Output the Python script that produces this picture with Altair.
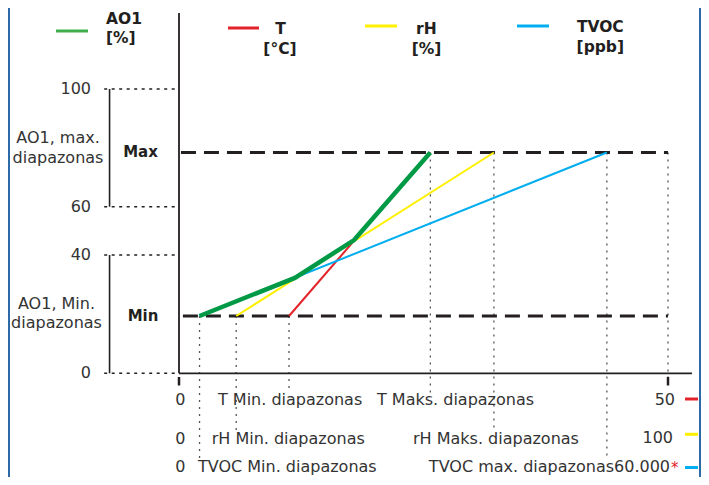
import altair as alt
import pandas as pd

# ---------------- data ----------------
ao1_ticks = [0, 40, 60, 100]            # AO1 output scale labels (%)
ao1_levels = [20, 80]                   # AO1 Min / Max (%)
sensors = ["T", "rH", "TVOC"]
units = ["[°C]", "[%]", "[ppb]"]
# sensor input expressed as % of each sensor's full range (0..50 °C, 0..100 %, 0..60.000 ppb)
sensor_min = [22.5, 11.7, 4.2]
sensor_max = [51.4, 64.4, 87.5]
range_end = ["50", "100", "60.000"]
min_labels = ["T Min. diapazonas", "rH Min. diapazonas", "TVOC Min. diapazonas"]
max_labels = ["T Maks. diapazonas", "rH Maks. diapazonas", "TVOC max. diapazonas60.000"]
# resulting AO1 curve (highest of the three sensor signals)
ao1_x = [4.2, 23.7, 35.8, 51.4]
ao1_y = [20, 32.5, 46.2, 80]

# ---------------- style ----------------
FONT = "DejaVu Sans"
TXT = "#333333"
INK = "#231f20"
colors = ["#e3222a", "#fff000", "#00aeef"]
GREEN = "#009a47"
GREEN_LEG = "#3fae4a"
BORDER = "#2f6aa8"
W, H = 693, 469

XS = alt.Scale(domain=[0, 100], range=[171, 660], nice=False, zero=False)
YS = alt.Scale(domain=[0, 20, 40, 60, 80, 100],
               range=[365.3, 308, 247, 198.7, 144.5, 81], nice=False, zero=False)


def X(f="x"):
    return alt.X(f"{f}:Q", scale=XS, axis=None)


def Y(f="y"):
    return alt.Y(f"{f}:Q", scale=YS, axis=None)


ONE = alt.Data(values=[{}])


def label(text, x, y, align="left", bold=False, size=16, color=TXT, baseline="middle"):
    return alt.Chart(ONE).mark_text(
        text=text, align=align, baseline=baseline, font=FONT, fontSize=size,
        fontWeight="bold" if bold else "normal", color=color
    ).encode(x=alt.value(x), y=alt.value(y))


def seg(x1, x2, y, color, width=3):
    return alt.Chart(ONE).mark_rule(color=color, strokeWidth=width).encode(
        x=alt.value(x1), x2=alt.value(x2), y=alt.value(y))


layers = []

# borders
layers.append(alt.Chart(ONE).mark_rule(color=BORDER, strokeWidth=2).encode(
    x=alt.value(1), y=alt.value(0), y2=alt.value(H)))
layers.append(alt.Chart(ONE).mark_rule(color=BORDER, strokeWidth=2).encode(
    x=alt.value(692), y=alt.value(0), y2=alt.value(H)))

# left dotted guide lines and brackets
tick_df = pd.DataFrame({"y": ao1_ticks, "x": [-15.3] * 4, "x2": [0] * 4,
                        "label": [str(v) for v in ao1_ticks]})
layers.append(alt.Chart(tick_df).mark_rule(color=INK, strokeWidth=1.6, strokeDash=[3, 4.5]).encode(
    x=X(), x2="x2:Q", y=Y()))
br_df = pd.DataFrame({"y": [100, 40], "y2": [60, 0], "x": [-14.2, -14.2]})
layers.append(alt.Chart(br_df).mark_rule(color=INK, strokeWidth=1.6).encode(
    x=X(), y=Y(), y2="y2:Q"))
layers.append(alt.Chart(tick_df).mark_text(align="right", baseline="middle", font=FONT,
                                           fontSize=16, color=TXT).encode(
    x=alt.value(83), y=Y(), text="label:N"))

# vertical dotted drop lines
row_bottom = [385, 422, 452]
for i, s in enumerate(sensors):
    d = pd.DataFrame({"x": [sensor_min[i], sensor_max[i]], "y": ao1_levels})
    layers.append(alt.Chart(d).mark_rule(color="#555555", strokeWidth=1.3, strokeDash=[2, 5]).encode(
        x=X(), y=Y(), y2=alt.value(row_bottom[i])))
layers.append(alt.Chart(pd.DataFrame({"x": [100], "y": [80]})).mark_rule(
    color="#555555", strokeWidth=1.3, strokeDash=[2, 5]).encode(x=X(), y=Y(), y2=alt.value(370)))

# dashed Min / Max lines
dash_df = pd.DataFrame({"y": ao1_levels, "x": [0.8, 0.4], "x2": [100, 100]})
layers.append(alt.Chart(dash_df).mark_rule(color=INK, strokeWidth=3, strokeDash=[15, 8]).encode(
    x=X(), x2="x2:Q", y=Y()))

# axes
layers.append(alt.Chart(pd.DataFrame({"x": [0]})).mark_rule(color=INK, strokeWidth=1.8).encode(
    x=X(), y=alt.value(5), y2=alt.value(365.3)))
layers.append(alt.Chart(pd.DataFrame({"y": [0]})).mark_rule(color=INK, strokeWidth=1.8).encode(
    y=Y(), x=alt.value(171), x2=alt.value(684)))
layers.append(alt.Chart(pd.DataFrame({"x": [0, 100]})).mark_rule(color=INK, strokeWidth=2.5).encode(
    x=X(), y=alt.value(369), y2=alt.value(377.5)))

# sensor lines
rows = []
for i, s in enumerate(sensors):
    rows.append({"sensor": s, "x": sensor_min[i], "y": ao1_levels[0]})
    rows.append({"sensor": s, "x": sensor_max[i], "y": ao1_levels[1]})
sens_df = pd.DataFrame(rows)
layers.append(alt.Chart(sens_df).mark_line(strokeWidth=2).encode(
    x=X(), y=Y(),
    color=alt.Color("sensor:N", scale=alt.Scale(domain=sensors, range=colors), legend=None)))

# AO1 curve
ao1_df = pd.DataFrame({"x": ao1_x, "y": ao1_y})
layers.append(alt.Chart(ao1_df).mark_line(strokeWidth=4.5, color=GREEN).encode(x=X(), y=Y()))

# left side texts
layers += [
    label("AO1, max.", 50, 130, align="center"),
    label("diapazonas", 50, 150, align="center"),
    label("Max", 132.5, 144, align="center", bold=True, size=15, color=INK),
    label("AO1, Min.", 48.5, 296, align="center"),
    label("diapazonas", 48.5, 314.7, align="center"),
    label("Min", 135, 308, align="center", bold=True, size=15, color=INK),
]

# legend
layers += [
    seg(48, 80, 23, GREEN_LEG),
    label("AO1", 98, 11, bold=True, size=15.5, color=INK),
    label("[%]", 98, 30, bold=True, size=15.5, color=INK),
    seg(220, 251, 20, colors[0]),
    label(sensors[0], 272.5, 20.7, align="center", bold=True, size=15.5, color=INK),
    label(units[0], 272, 41, align="center", bold=True, size=15.5, color=INK),
    seg(357, 389, 18, colors[1]),
    label(sensors[1], 418.3, 20.7, align="center", bold=True, size=15.5, color=INK),
    label(units[1], 418.5, 40.7, align="center", bold=True, size=15.5, color=INK),
    seg(509, 541, 18, colors[2]),
    label(sensors[2], 592.3, 19.3, align="center", bold=True, size=15.5, color=INK),
    label(units[2], 592.3, 38.7, align="center", bold=True, size=15.5, color=INK),
]

# bottom rows
row_y = [391.5, 431, 459.3]
min_x = [210, 203.7, 190]
for i in range(3):
    layers.append(label("0", 172.3, row_y[i], align="center"))
    layers.append(label(min_labels[i], min_x[i], row_y[i]))
layers += [
    label(max_labels[0], 369, 392),
    label(range_end[0], 667, 392, align="right"),
    seg(677, 690, 391, colors[0]),
    label(max_labels[1], 405, 431),
    label(range_end[1], 665, 430, align="right"),
    seg(677, 690, 426.3, colors[1]),
    label(max_labels[2], 662, 459, align="right"),
    label("*", 663, 465, size=15, color=colors[0], baseline="alphabetic"),
    seg(677, 690, 459.5, colors[2]),
]

chart = alt.layer(*layers).properties(
    width=W, height=H, autosize="none", padding=0, background="white"
).configure_view(stroke=None)

chart.save("out.html", embed_options={"renderer": "svg", "actions": False})
